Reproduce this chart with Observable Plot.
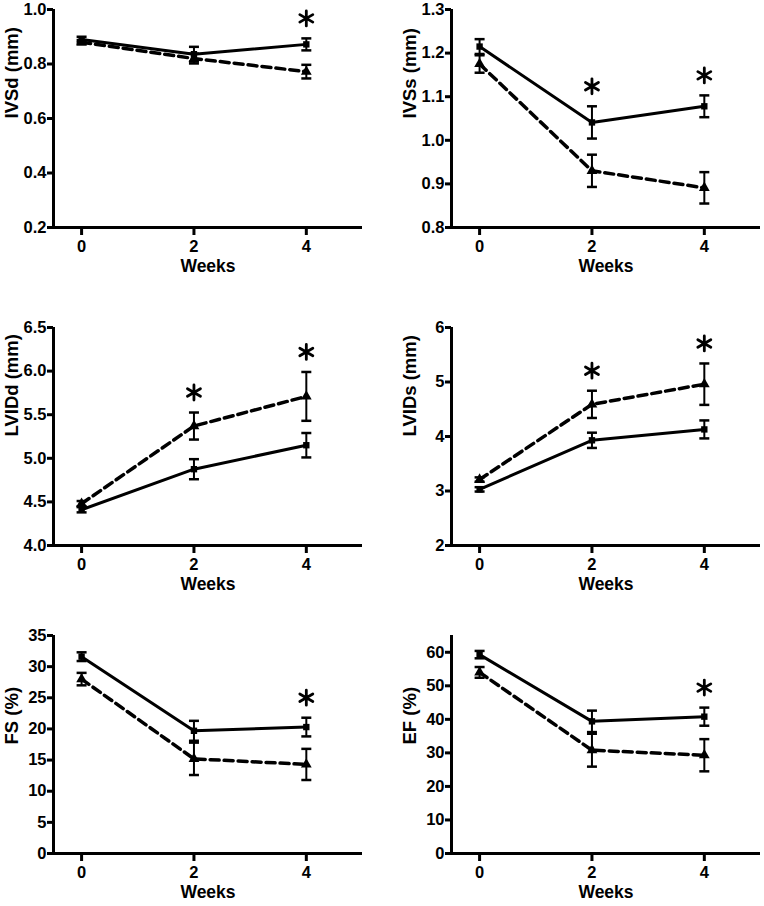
<!DOCTYPE html>
<html>
<head>
<meta charset="utf-8">
<script src="https://cdn.jsdelivr.net/npm/d3@7"></script>
<script src="https://cdn.jsdelivr.net/npm/@observablehq/plot@0.6"></script>
<style>
  html, body { margin: 0; padding: 0; background: #fff; }
  #chart { position: relative; width: 764px; height: 906px; overflow: hidden; }
  #chart svg { position: absolute; overflow: visible; }
</style>
</head>
<body>
<div id="chart"></div>
<script>
// ---- data ----
const weeks = [0, 2, 4];
const xLabel = "Weeks";

const ivsdLabel = "IVSd (mm)";
const ivsdTicks = [0.2, 0.4, 0.6, 0.8, 1.0];
const ivsdCtrl = [0.890, 0.836, 0.872];
const ivsdCtrlSem = [0.010, 0.027, 0.022];
const ivsdTrt = [0.880, 0.820, 0.772];
const ivsdTrtSem = [0.008, 0.018, 0.025];
const ivsdSig = [4];

const ivssLabel = "IVSs (mm)";
const ivssTicks = [0.8, 0.9, 1.0, 1.1, 1.2, 1.3];
const ivssCtrl = [1.215, 1.041, 1.078];
const ivssCtrlSem = [0.017, 0.037, 0.025];
const ivssTrt = [1.175, 0.930, 0.891];
const ivssTrtSem = [0.020, 0.037, 0.036];
const ivssSig = [2, 4];

const lviddLabel = "LVIDd (mm)";
const lviddTicks = [4.0, 4.5, 5.0, 5.5, 6.0, 6.5];
const lviddCtrl = [4.41, 4.875, 5.15];
const lviddCtrlSem = [0.03, 0.115, 0.14];
const lviddTrt = [4.48, 5.37, 5.71];
const lviddTrtSem = [0.03, 0.155, 0.28];
const lviddSig = [2, 4];

const lvidsLabel = "LVIDs (mm)";
const lvidsTicks = [2, 3, 4, 5, 6];
const lvidsCtrl = [3.03, 3.93, 4.13];
const lvidsCtrlSem = [0.04, 0.14, 0.165];
const lvidsTrt = [3.21, 4.59, 4.96];
const lvidsTrtSem = [0.04, 0.25, 0.38];
const lvidsSig = [2, 4];

const fsLabel = "FS (%)";
const fsTicks = [0, 5, 10, 15, 20, 25, 30, 35];
const fsCtrl = [31.6, 19.7, 20.3];
const fsCtrlSem = [0.7, 1.6, 1.5];
const fsTrt = [28.0, 15.2, 14.3];
const fsTrtSem = [1.0, 2.6, 2.5];
const fsSig = [4];

const efLabel = "EF (%)";
const efTicks = [0, 10, 20, 30, 40, 50, 60];
const efDomainMax = 65;
const efCtrl = [59.3, 39.4, 40.8];
const efCtrlSem = [1.1, 3.2, 2.7];
const efTrt = [54.0, 30.8, 29.3];
const efTrtSem = [1.6, 4.9, 4.8];
const efSig = [4];

// ---- custom symbols ----
const asterisk = {
  draw(ctx, size) {
    const r = Math.sqrt(size / Math.PI);
    for (const a of [90, 30, -30]) {
      const t = a * Math.PI / 180;
      ctx.moveTo(r * Math.cos(t), r * Math.sin(t));
      ctx.lineTo(-r * Math.cos(t), -r * Math.sin(t));
    }
  }
};
const cap = {
  draw(ctx, size) {
    const r = Math.sqrt(size / Math.PI);
    ctx.moveTo(-r, 0);
    ctx.lineTo(r, 0);
  }
};

function panel(cfg) {
  const rows = (m, s) => weeks.map((w, i) => ({week: w, y: m[i], lo: m[i] - s[i], hi: m[i] + s[i]}));
  const c = rows(cfg.ctrl, cfg.ctrlSem);
  const t = rows(cfg.trt, cfg.trtSem);
  const stars = cfg.sig.map(w => {
    const i = weeks.indexOf(w);
    return {week: w, y: Math.max(c[i].hi, t[i].hi)};
  });
  const svg = Plot.plot({
    width: 382,
    height: 288,
    marginLeft: cfg.ml,
    marginRight: cfg.mr,
    marginTop: 10,
    marginBottom: 60,
    x: {domain: [-0.5, 5]},
    y: {domain: cfg.domain},
    style: {fontFamily: "'Liberation Sans', Arial, sans-serif", fontWeight: "bold", color: "black", background: "transparent", overflow: "visible"},
    marks: [
      Plot.ruleX([-0.5], {stroke: "black", strokeWidth: 3}),
      Plot.ruleY([cfg.domain[0]], {stroke: "black", strokeWidth: 3}),
      Plot.axisY({ticks: cfg.ticks, tickFormat: cfg.fmt, tickSize: 6, tickPadding: 1, strokeWidth: 3, fontSize: 16.5, label: null}),
      Plot.axisX({ticks: weeks, tickFormat: d3.format("d"), tickSize: 8, tickPadding: 5, strokeWidth: 3, fontSize: 16.5, label: null}),
      Plot.text([cfg.label], {frameAnchor: "left", rotate: -90, dx: -41, fontSize: 18.5, fill: "black"}),
      Plot.text([xLabel], {frameAnchor: "bottom", dy: 44, fontSize: 17.5, fill: "black"}),
      // error bars
      Plot.ruleX(t, {x: "week", y1: "lo", y2: "hi", stroke: "black", strokeWidth: 2}),
      Plot.ruleX(c, {x: "week", y1: "lo", y2: "hi", stroke: "black", strokeWidth: 2}),
      Plot.dot(t, {x: "week", y: "lo", symbol: cap, r: 5, fill: "none", stroke: "black", strokeWidth: 2.5}),
      Plot.dot(t, {x: "week", y: "hi", symbol: cap, r: 5, fill: "none", stroke: "black", strokeWidth: 2.5}),
      Plot.dot(c, {x: "week", y: "lo", symbol: cap, r: 5, fill: "none", stroke: "black", strokeWidth: 2.5}),
      Plot.dot(c, {x: "week", y: "hi", symbol: cap, r: 5, fill: "none", stroke: "black", strokeWidth: 2.5}),
      // lines
      Plot.line(t, {x: "week", y: "y", stroke: "black", strokeWidth: 3.5, strokeDasharray: "9,5"}),
      Plot.line(c, {x: "week", y: "y", stroke: "black", strokeWidth: 3}),
      // markers
      Plot.dot(t, {x: "week", y: "y", symbol: "triangle", r: 4, fill: "black", stroke: "none"}),
      Plot.dot(c, {x: "week", y: "y", symbol: "square", r: 3.6, fill: "black", stroke: "none"}),
      // significance
      Plot.dot(stars, {x: "week", y: "y", dy: -20, symbol: asterisk, r: 7.5, fill: "none", stroke: "black", strokeWidth: 2.8, strokeLinecap: "round"})
    ]
  });
  svg.style.left = cfg.left + "px";
  svg.style.top = cfg.top + "px";
  return svg;
}

const f1 = d3.format(".1f");
const f0 = d3.format("d");
const L = {ml: 53, mr: 20, left: 0};
const R = {ml: 69, mr: 4, left: 382};
const rowTop = [9, 326.5, 635].map(v => v - 10);

const specs = [
  {...L, top: rowTop[0], label: ivsdLabel, domain: [0.2, 1.0], ticks: ivsdTicks, fmt: f1, ctrl: ivsdCtrl, ctrlSem: ivsdCtrlSem, trt: ivsdTrt, trtSem: ivsdTrtSem, sig: ivsdSig},
  {...R, top: rowTop[0], label: ivssLabel, domain: [0.8, 1.3], ticks: ivssTicks, fmt: f1, ctrl: ivssCtrl, ctrlSem: ivssCtrlSem, trt: ivssTrt, trtSem: ivssTrtSem, sig: ivssSig},
  {...L, top: rowTop[1], label: lviddLabel, domain: [4.0, 6.5], ticks: lviddTicks, fmt: f1, ctrl: lviddCtrl, ctrlSem: lviddCtrlSem, trt: lviddTrt, trtSem: lviddTrtSem, sig: lviddSig},
  {...R, top: rowTop[1], label: lvidsLabel, domain: [2, 6], ticks: lvidsTicks, fmt: f0, ctrl: lvidsCtrl, ctrlSem: lvidsCtrlSem, trt: lvidsTrt, trtSem: lvidsTrtSem, sig: lvidsSig},
  {...L, top: rowTop[2], label: fsLabel, domain: [0, 35], ticks: fsTicks, fmt: f0, ctrl: fsCtrl, ctrlSem: fsCtrlSem, trt: fsTrt, trtSem: fsTrtSem, sig: fsSig},
  {...R, top: rowTop[2], label: efLabel, domain: [0, efDomainMax], ticks: efTicks, fmt: f0, ctrl: efCtrl, ctrlSem: efCtrlSem, trt: efTrt, trtSem: efTrtSem, sig: efSig}
];

const root = document.getElementById("chart");
for (const s of specs) root.appendChild(panel(s));
</script>
</body>
</html>
